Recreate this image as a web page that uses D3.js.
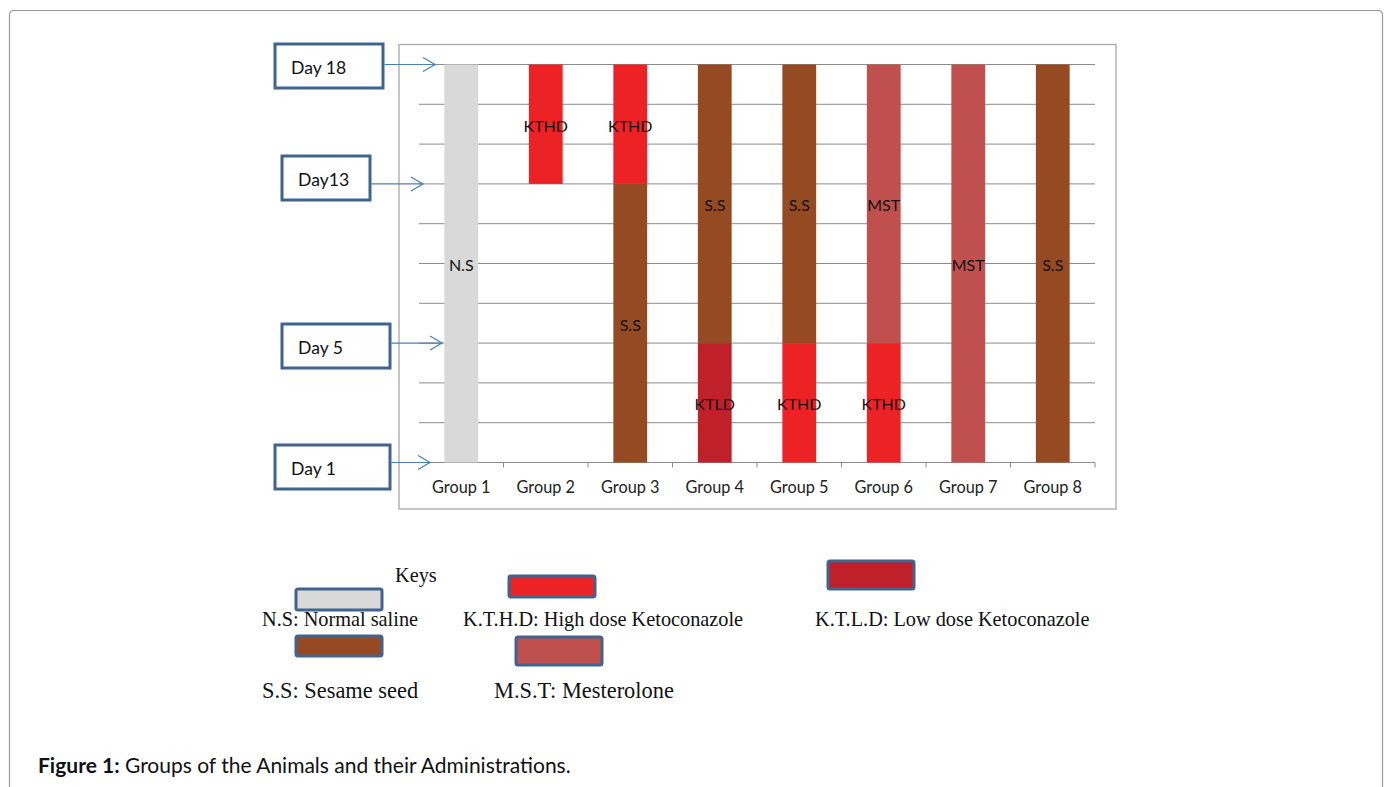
<!DOCTYPE html>
<html>
<head>
<meta charset="utf-8">
<script src="https://cdn.jsdelivr.net/npm/d3@7"></script>
<style>
  html, body { margin: 0; padding: 0; background: #fff; }
  svg { display: block; }
</style>
</head>
<body>
<svg id="plot" width="1389" height="787"></svg>
<script>
// groups on the x axis
const groups = ['Group 1', 'Group 2', 'Group 3', 'Group 4', 'Group 5', 'Group 6', 'Group 7', 'Group 8'];
// each bar segment: group, start, end (gridline units), treatment
const segGroup = ['Group 1', 'Group 2', 'Group 3', 'Group 3', 'Group 4', 'Group 4', 'Group 5', 'Group 5', 'Group 6', 'Group 6', 'Group 7', 'Group 8'];
const segFrom = [0, 7, 0, 7, 0, 3, 0, 3, 0, 3, 0, 0];
const segTo = [10, 10, 7, 10, 3, 10, 3, 10, 3, 10, 10, 10];
const segKind = ['N.S', 'KTHD', 'S.S', 'KTHD', 'KTLD', 'S.S', 'KTHD', 'S.S', 'KTHD', 'MST', 'MST', 'S.S'];
// day markers pointing at the gridlines
const dayLabels = ['Day 18', 'Day13', 'Day 5', 'Day 1'];
const dayValues = [10, 7, 3, 0];
// legend keys
const keyKinds = ['N.S', 'KTHD', 'KTLD', 'S.S', 'MST'];
const keyLabels = ['N.S: Normal saline', 'K.T.H.D: High dose Ketoconazole', 'K.T.L.D: Low dose Ketoconazole', 'S.S: Sesame seed', 'M.S.T: Mesterolone'];
const kinds = ['N.S', 'KTHD', 'KTLD', 'S.S', 'MST'];
const kindColors = ['#d9d9d9', '#ed2224', '#c0202a', '#964a22', '#c0504d'];

const svg = d3.select('#plot');
const color = d3.scaleOrdinal(kinds, kindColors);
const x = d3.scaleBand(groups, [419, 1095]);
const y = d3.scaleLinear([0, 10], [462.5, 64.5]);
const navy = '#41648f';
const sans = 'Lato, "Open Sans", sans-serif';
const serif = '"Liberation Serif", serif';

// outer figure frame (runs off the bottom)
svg.append('path')
  .attr('d', 'M9.5,800 V15 Q9.5,10.5 14,10.5 H1378 Q1382.5,10.5 1382.5,15 V800')
  .attr('fill', 'none').attr('stroke', '#9a9a9a').attr('stroke-width', 1.2);

// chart frame
svg.append('rect').attr('x', 399).attr('y', 44.5).attr('width', 717).attr('height', 464.5)
  .attr('fill', '#fff').attr('stroke', '#a8a8a8').attr('stroke-width', 1.3);

// gridlines
svg.append('g').selectAll('line').data(d3.range(0, 11)).join('line')
  .attr('x1', 419).attr('x2', 1095)
  .attr('y1', d => y(d)).attr('y2', d => y(d))
  .attr('stroke', '#8c8c8c').attr('stroke-width', 1);

// boundary ticks under the baseline
svg.append('g').selectAll('line').data(groups).join('line')
  .attr('x1', d => x(d) + x.bandwidth()).attr('x2', d => x(d) + x.bandwidth())
  .attr('y1', y(0)).attr('y2', y(0) + 5)
  .attr('stroke', '#8c8c8c').attr('stroke-width', 1);

// category labels
svg.append('g').attr('transform', `translate(0,${y(0)})`)
  .call(d3.axisBottom(x).tickSize(0).tickPadding(19))
  .call(g => g.select('.domain').remove())
  .call(g => g.selectAll('text').attr('font-family', sans)
    .attr('font-size', 16.3).attr('fill', '#222'));

// bar segments
const segs = segGroup.map((g, i) => ({ g, from: segFrom[i], to: segTo[i], kind: segKind[i] }));
const barW = x.bandwidth() * 0.4;
svg.append('g').selectAll('rect').data(segs).join('rect')
  .attr('x', d => x(d.g) + (x.bandwidth() - barW) / 2)
  .attr('y', d => y(d.to))
  .attr('width', barW)
  .attr('height', d => y(d.from) - y(d.to))
  .attr('fill', d => color(d.kind));

svg.append('g').selectAll('text').data(segs).join('text')
  .attr('x', d => x(d.g) + x.bandwidth() / 2)
  .attr('y', d => y((d.from + d.to) / 2) + 7.5)
  .attr('text-anchor', 'middle')
  .attr('font-family', sans).attr('font-size', 16)
  .attr('fill', '#111').text(d => d.kind);

// day boxes and arrows
const dayBoxX = [275, 282, 282, 275];
const dayBoxW = [108, 88, 108, 115];
const dayBoxY = [44, 156, 324, 445];
const dayArrowEnd = [435, 423, 442, 430];
const days = dayLabels.map((t, i) => ({ t, v: dayValues[i], bx: dayBoxX[i], bw: dayBoxW[i], by: dayBoxY[i], ax: dayArrowEnd[i] }));
const dg = svg.append('g').selectAll('g').data(days).join('g');
dg.append('rect')
  .attr('x', d => d.bx).attr('y', d => d.by).attr('width', d => d.bw).attr('height', 44)
  .attr('fill', '#fff').attr('stroke', navy).attr('stroke-width', 3);
dg.append('text')
  .attr('x', d => d.bx + 16).attr('y', d => d.by + 29.5)
  .attr('font-family', sans).attr('font-size', 17.6)
  .attr('fill', '#111').text(d => d.t);
dg.append('line')
  .attr('x1', d => d.bx + d.bw + 1.5).attr('x2', d => d.ax)
  .attr('y1', d => y(d.v)).attr('y2', d => y(d.v))
  .attr('stroke', '#4a7ebb').attr('stroke-width', 1.2);
dg.append('path')
  .attr('d', d => `M${d.ax - 12},${y(d.v) - 7} L${d.ax},${y(d.v)} L${d.ax - 12},${y(d.v) + 7}`)
  .attr('fill', 'none').attr('stroke', '#4a7ebb').attr('stroke-width', 1.2);

// legend
svg.append('text').attr('x', 395).attr('y', 582)
  .attr('font-family', serif).attr('font-size', 20.3)
  .attr('fill', '#111').text('Keys');
const keySwX = [296, 509, 828, 296, 516];
const keySwY = [589, 576, 561, 636, 637];
const keySwH = [21, 21, 28, 20, 28];
const keyTx = [262, 463, 815, 262, 494];
const keyTy = [626, 626, 626, 698, 698];
const keyFs = [20.3, 20.3, 20.3, 22.4, 22.4];
const keys = keyKinds.map((k, i) => ({ k, label: keyLabels[i], sx: keySwX[i], sy: keySwY[i], sh: keySwH[i], tx: keyTx[i], ty: keyTy[i], fs: keyFs[i] }));
const kg = svg.append('g').selectAll('g').data(keys).join('g');
kg.append('rect')
  .attr('x', d => d.sx).attr('y', d => d.sy).attr('width', 86).attr('height', d => d.sh)
  .attr('rx', 2).attr('fill', d => color(d.k)).attr('stroke', navy).attr('stroke-width', 3);
kg.append('text')
  .attr('x', d => d.tx).attr('y', d => d.ty)
  .attr('font-family', serif).attr('font-size', d => d.fs)
  .attr('fill', '#111').text(d => d.label);

// caption
const cap = svg.append('text').attr('x', 38).attr('y', 773)
  .attr('font-family', sans).attr('font-size', 21).attr('fill', '#111');
cap.append('tspan').attr('font-weight', 'bold').text('Figure 1:');
cap.append('tspan').text(' Groups of the Animals and their Administrations.');
</script>
</body>
</html>
